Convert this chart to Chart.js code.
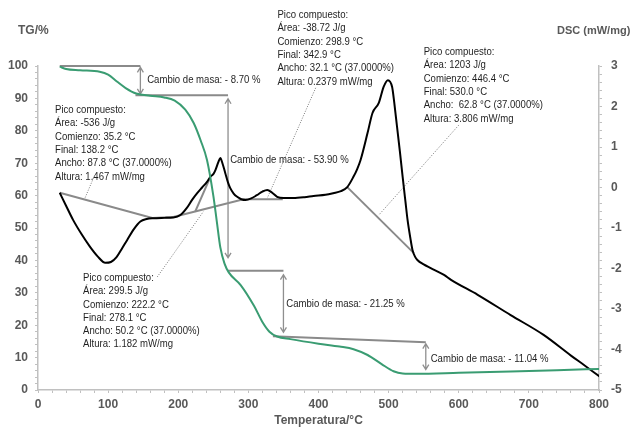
<!DOCTYPE html>
<html>
<head>
<meta charset="utf-8">
<script src="https://cdn.jsdelivr.net/npm/chart.js@4"></script>
<style>
  html, body { margin: 0; padding: 0; background: #fff; }
  #wrap { position: relative; width: 633px; height: 428px; }
</style>
</head>
<body>
<div id="wrap"><canvas id="chart" width="633" height="428"></canvas></div>
<script>
// TG curve (temperature °C -> mass %)
const tgTemp = [31, 40, 60, 88, 100, 112, 125, 140, 160, 180, 195, 210, 222, 232, 241, 250, 255, 260, 266, 272, 289, 308, 320, 330, 341, 360, 400, 430, 450, 470, 490, 507, 520, 540, 600, 674, 740, 800];
const tgMass = [99.8, 99.1, 98.7, 98.2, 97.3, 95.3, 93.2, 91.5, 90.8, 90.3, 89.3, 86.5, 82.4, 77, 71, 60, 52, 44, 39, 36.3, 32.4, 26, 21, 18, 16.5, 15.7, 14.3, 13.4, 12.6, 10.8, 8, 5.8, 5.1, 5.0, 5.3, 5.7, 6.1, 6.5];

// DSC curve (temperature °C -> mW/mg)
const dscTemp = [31, 40, 50, 62, 74, 85, 96, 104, 112, 120, 127, 137, 146, 155, 164, 180, 193, 203, 212, 220, 227, 234, 241, 246, 250, 253, 257, 260, 263, 267, 271, 274, 279, 284, 290, 296, 304, 312, 320, 327, 334, 341, 350, 364, 380, 393, 410, 421, 432, 441, 450, 455, 460, 470, 477, 486, 493, 499, 505, 508, 512, 516, 520, 524, 527, 531, 534, 538, 541, 550, 560, 579, 589, 627, 674, 721, 760, 780, 801];
const dscHeat = [-0.13, -0.45, -0.8, -1.15, -1.46, -1.7, -1.86, -1.84, -1.72, -1.5, -1.3, -1.02, -0.84, -0.78, -0.76, -0.75, -0.74, -0.68, -0.51, -0.3, -0.14, 0.0, 0.14, 0.27, 0.33, 0.43, 0.62, 0.73, 0.6, 0.36, 0.12, -0.01, -0.15, -0.23, -0.29, -0.31, -0.27, -0.19, -0.1, -0.06, -0.13, -0.23, -0.26, -0.26, -0.24, -0.21, -0.18, -0.14, -0.09, 0.01, 0.27, 0.45, 0.68, 1.35, 1.84, 2.09, 2.49, 2.65, 2.48, 2.1, 1.5, 0.9, 0.26, -0.35, -0.8, -1.25, -1.54, -1.72, -1.79, -1.9, -1.99, -2.16, -2.28, -2.65, -3.15, -3.64, -4.15, -4.4, -4.67];

// mass-change steps: horizontal reference lines and double arrows (°C, %)
const massLines = [
  [[31, 100], [146, 100]],
  [[139, 91], [271, 91]],
  [[271, 36.8], [350, 36.8]],
  [[335, 16.6], [553, 14.7]]
];
const massArrows = [
  [146, 99.6, 91.4],
  [271, 89.9, 40.8],
  [350, 35.6, 17.8],
  [553, 14.3, 6.3]
];
const massLabels = [
  [155.7, 95.7, 'Cambio de masa: - 8.70 %'],
  [274, 71, 'Cambio de masa: - 53.90 %'],
  [354, 26.5, 'Cambio de masa: - 21.25 %'],
  [560, 9.6, 'Cambio de masa: - 11.04 %']
];

// DSC peak baselines and dotted leaders (°C, mW/mg)
const dscBaselines = [
  [[31, -0.13], [163, -0.75], [193, -0.73]],
  [[193, -0.73], [293, -0.29], [349, -0.29]],
  [[224, -0.6], [244, 0.19]],
  [[441, 0.01], [536, -1.62]]
];
const dscLeaders = [
  [[79, 0.23], [67, -0.26]],
  [[396, 2.46], [327, -0.26]],
  [[600, 1.54], [486, -0.68]],
  [[170, -2.21], [236, -0.59]]
];

// peak text blocks, anchored on (°C, %)
const peakTexts = [
  [24.3, 86.4, ['Pico compuesto:', 'Área: -536 J/g', 'Comienzo: 35.2 °C', 'Final: 138.2 °C', 'Ancho: 87.8 °C (37.0000%)', 'Altura: 1.467 mW/mg']],
  [341.4, 115.7, ['Pico compuesto:', 'Área: -38.72 J/g', 'Comienzo: 298.9 °C', 'Final: 342.9 °C', 'Ancho: 32.1 °C (37.0000%)', 'Altura: 0.2379 mW/mg']],
  [550, 104.3, ['Pico compuesto:', 'Área: 1203 J/g', 'Comienzo: 446.4 °C', 'Final: 530.0 °C', 'Ancho:  62.8 °C (37.0000%)', 'Altura: 3.806 mW/mg']],
  [64.3, 34.6, ['Pico compuesto:', 'Área: 299.5 J/g', 'Comienzo: 222.2 °C', 'Final: 278.1 °C', 'Ancho: 50.2 °C (37.0000%)', 'Altura: 1.182 mW/mg']]
];

const xMajor = 100, tgMajor = 10, dscMajor = 1;

const green = "#3a9c72";
const annoGray = "#8a8a8a";
const axisGray = "#c0c0c0";
const labelGray = "#595959";
const textFont = "11px 'Liberation Sans', Arial, sans-serif";
const textSqueeze = 0.87; // narrow, Calibri-like text

function isMajor(v, step) {
    const r = v / step;
    return Math.abs(r - Math.round(r)) < 1e-6;
}

function narrowText(ctx, text, x, y) {
    ctx.save();
    ctx.translate(x, y);
    ctx.scale(textSqueeze, 1);
    ctx.fillText(text, 0, 0);
    ctx.restore();
}

const annotations = {
    id: "annotations",
    beforeDatasetsDraw(chart) {
        const { ctx, scales } = chart;
        const x = scales.x, yT = scales.yTG, yD = scales.yDSC;
        ctx.save();
        ctx.strokeStyle = annoGray;
        ctx.lineWidth = 2;
        // mass lines
        massLines.forEach(seg => {
            ctx.beginPath();
            seg.forEach((p, i) => {
                const px = x.getPixelForValue(p[0]), py = yT.getPixelForValue(p[1]);
                i ? ctx.lineTo(px, py) : ctx.moveTo(px, py);
            });
            ctx.stroke();
        });
        // dsc baselines
        dscBaselines.forEach(seg => {
            ctx.beginPath();
            seg.forEach((p, i) => {
                const px = x.getPixelForValue(p[0]), py = yD.getPixelForValue(p[1]);
                i ? ctx.lineTo(px, py) : ctx.moveTo(px, py);
            });
            ctx.stroke();
        });
        // arrows
        ctx.lineWidth = 1.3;
        ctx.strokeStyle = "#8f8f8f";
        massArrows.forEach(a => {
            const px = x.getPixelForValue(a[0]);
            const y1 = yT.getPixelForValue(a[1]), y2 = yT.getPixelForValue(a[2]);
            ctx.beginPath();
            ctx.moveTo(px, y1); ctx.lineTo(px, y2);
            ctx.moveTo(px - 3, y1 + 5); ctx.lineTo(px, y1); ctx.lineTo(px + 3, y1 + 5);
            ctx.moveTo(px - 3, y2 - 5); ctx.lineTo(px, y2); ctx.lineTo(px + 3, y2 - 5);
            ctx.stroke();
        });
        // dotted leaders
        ctx.lineWidth = 1;
        ctx.strokeStyle = "#7a7a7a";
        ctx.setLineDash([1, 1.5]);
        dscLeaders.forEach(seg => {
            ctx.beginPath();
            ctx.moveTo(x.getPixelForValue(seg[0][0]), yD.getPixelForValue(seg[0][1]));
            ctx.lineTo(x.getPixelForValue(seg[1][0]), yD.getPixelForValue(seg[1][1]));
            ctx.stroke();
        });
        ctx.restore();
    },
    afterDraw(chart) {
        const { ctx, scales } = chart;
        const x = scales.x, yT = scales.yTG;
        ctx.save();
        ctx.fillStyle = "#1f1f1f";
        ctx.font = textFont;
        ctx.textAlign = "left";
        ctx.textBaseline = "middle";
        massLabels.forEach(m => {
            narrowText(ctx, m[2], x.getPixelForValue(m[0]), yT.getPixelForValue(m[1]));
        });
        peakTexts.forEach(b => {
            const px = x.getPixelForValue(b[0]);
            const py = yT.getPixelForValue(b[1]);
            b[2].forEach((line, i) => narrowText(ctx, line, px, py + i * 13.3));
        });
        // axis titles above the y axes
        ctx.fillStyle = labelGray;
        ctx.font = "bold 12px 'Liberation Sans', Arial, sans-serif";
        ctx.fillText("TG/%", 18, 31);
        ctx.font = "bold 11px 'Liberation Sans', Arial, sans-serif";
        ctx.fillText("DSC (mW/mg)", 557, 31);
        ctx.restore();
    }
};

const tickFont = { family: "'Liberation Sans', Arial, sans-serif", size: 12, weight: "bold" };

const ctx = document.getElementById("chart").getContext("2d");
new Chart(ctx, {
    type: "line",
    data: {
        datasets: [
            {
                label: "TG",
                data: tgTemp.map((t, i) => ({ x: t, y: tgMass[i] })),
                yAxisID: "yTG",
                borderColor: green,
                borderWidth: 2,
                pointRadius: 0,
                cubicInterpolationMode: "monotone"
            },
            {
                label: "DSC",
                data: dscTemp.map((t, i) => ({ x: t, y: dscHeat[i] })),
                yAxisID: "yDSC",
                borderColor: "#000000",
                borderWidth: 2,
                pointRadius: 0,
                cubicInterpolationMode: "monotone"
            }
        ]
    },
    options: {
        responsive: false,
        animation: false,
        layout: { padding: { top: 66, left: 0, right: 0, bottom: 0 } },
        plugins: {
            legend: { display: false },
            tooltip: { enabled: false }
        },
        scales: {
            x: {
                type: "linear",
                min: 0,
                max: 800,
                border: { display: true, color: axisGray, width: 1.5 },
                grid: { display: true, drawOnChartArea: false, drawTicks: true, tickLength: 3, tickColor: axisGray },
                ticks: {
                    stepSize: 20,
                    autoSkip: false,
                    maxRotation: 0,
                    padding: 4,
                    color: labelGray,
                    font: tickFont,
                    callback: v => isMajor(v, xMajor) ? String(v) : ""
                },
                title: {
                    display: true,
                    text: "Temperatura/°C",
                    color: labelGray,
                    font: { family: "'Liberation Sans', Arial, sans-serif", size: 12, weight: "bold" },
                    padding: { top: 0, bottom: 0 }
                },
                afterFit: s => { s.height = 38; }
            },
            yTG: {
                type: "linear",
                position: "left",
                min: 0,
                max: 100,
                border: { display: true, color: axisGray, width: 1.5 },
                grid: { display: true, drawOnChartArea: false, drawTicks: true, tickLength: 3, tickColor: axisGray },
                ticks: {
                    stepSize: 2,
                    autoSkip: false,
                    padding: 7,
                    color: labelGray,
                    font: tickFont,
                    callback: v => isMajor(v, tgMajor) ? String(v) : ""
                },
                afterFit: s => { s.width = 38; }
            },
            yDSC: {
                type: "linear",
                position: "right",
                min: -5,
                max: 3,
                border: { display: true, color: axisGray, width: 1.5 },
                grid: { display: true, drawOnChartArea: false, drawTicks: true, tickLength: 3, tickColor: axisGray },
                ticks: {
                    stepSize: 0.2,
                    autoSkip: false,
                    padding: 9,
                    color: labelGray,
                    font: tickFont,
                    callback: v => isMajor(v, dscMajor) ? String(Math.round(v)) : ""
                },
                afterFit: s => { s.width = 34; }
            }
        }
    },
    plugins: [annotations]
});
</script>
</body>
</html>
